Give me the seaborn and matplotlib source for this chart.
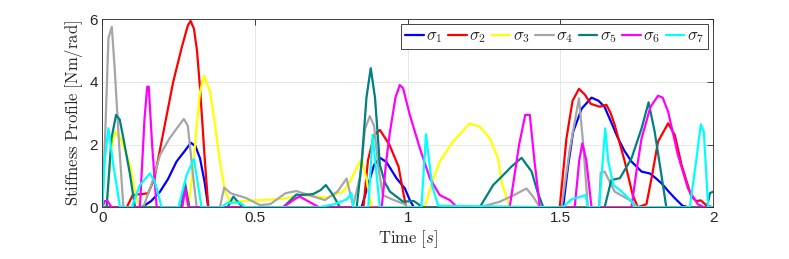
import numpy as np
import pandas as pd
import seaborn as sns
import matplotlib
matplotlib.use("Agg")
import matplotlib.pyplot as plt

# data -----------------------------------------------------------------------
labels = [r'$\sigma_1$', r'$\sigma_2$', r'$\sigma_3$', r'$\sigma_4$',
          r'$\sigma_5$', r'$\sigma_6$', r'$\sigma_7$']
colors = ['#0000ff', '#ff0000', '#ffff00', '#a6a6a6', '#008080', '#ff00ff', '#00ffff']

t1 = [0, 0.129, 0.16, 0.189, 0.215, 0.243, 0.27, 0.29, 0.305, 0.32, 0.335, 0.347,
      0.849, 0.87, 0.89, 0.909, 0.93, 0.964, 0.991, 1.007, 1.02,
      1.509, 1.525, 1.542, 1.57, 1.602, 1.625, 1.645, 1.665, 1.689, 1.71, 1.733,
      1.766, 1.793, 1.81, 1.831, 1.855, 1.875, 1.9, 1.92, 2.0]
s1 = [0, 0, 0.2, 0.5, 0.9, 1.46, 1.8, 2.06, 1.95, 1.56, 0.8, 0,
      0, 0.7, 1.35, 1.58, 1.45, 0.92, 0.6, 0.23, 0,
      0, 1.3, 2.41, 3.15, 3.5, 3.4, 3.2, 2.75, 2.2, 1.8, 1.46,
      1.14, 1.08, 0.95, 0.77, 0.5, 0.29, 0.05, 0, 0]

t2 = [0, 0.08, 0.1, 0.13, 0.15, 0.17, 0.19, 0.21, 0.232, 0.26, 0.28, 0.289, 0.3,
      0.31, 0.32, 0.335, 0.347,
      0.855, 0.87, 0.89, 0.909, 0.94, 0.97, 0.985, 0.995,
      1.498, 1.52, 1.54, 1.561, 1.58, 1.6, 1.629, 1.651, 1.665, 1.678, 1.711, 1.737,
      1.754, 1.782, 1.8, 1.82, 1.853, 1.875, 1.897, 1.929, 1.945, 1.96, 1.98, 2.0]
s2 = [0, 0, 0.4, 0.42, 0.45, 0.9, 1.9, 2.9, 4.0, 5.1, 5.8, 5.95, 5.7,
      5.0, 3.8, 1.6, 0,
      0, 1.5, 2.3, 2.47, 2.0, 1.3, 0.5, 0,
      0, 2.2, 3.4, 3.78, 3.6, 3.3, 3.21, 3.27, 3.0, 2.63, 1.46, 0.39,
      0, 0.1, 1.0, 2.1, 2.68, 2.3, 1.35, 0.34, 0.2, 0.22, 0.05, 0]

t3 = [0, 0.014, 0.028, 0.042, 0.06, 0.075, 0.091, 0.105, 0.123,
      0.282, 0.298, 0.31, 0.32, 0.333, 0.353, 0.369, 0.385, 0.402, 0.418, 0.47,
      0.592, 0.647, 0.735, 0.788, 0.81, 0.827, 0.849, 0.865, 0.882,
      1.056, 1.08, 1.105, 1.149, 1.193, 1.204, 1.236, 1.269, 1.296, 1.307, 1.334, 2.0]
s3 = [0, 0, 1.8, 2.41, 2.2, 1.8, 1.35, 0.6, 0,
      0, 1.35, 2.7, 3.69, 4.2, 3.69, 2.63, 1.46, 0.5, 0.18, 0.2,
      0.27, 0.39, 0.31, 0.5, 0.8, 1.14, 1.56, 0.9, 0,
      0, 0.8, 1.46, 2.1, 2.57, 2.68, 2.57, 2.2, 1.56, 0.82, 0, 0]

t4 = [0, 0.01, 0.02, 0.031, 0.04, 0.055, 0.069, 0.134, 0.16, 0.189, 0.22, 0.25,
      0.267, 0.28, 0.295, 0.309, 0.385, 0.399, 0.42, 0.47, 0.516, 0.55, 0.6, 0.636,
      0.647, 0.69, 0.729, 0.77, 0.8, 0.821, 0.845, 0.86, 0.876, 0.89, 0.905, 0.919,
      0.95, 0.99, 1.0, 1.236, 1.302, 1.35, 1.389, 1.41, 1.433, 1.504, 1.53, 1.561,
      1.575, 1.59, 1.627, 1.632, 1.645, 1.678, 1.727, 1.754, 2.0]
s4 = [0, 2.5, 5.4, 5.76, 4.5, 2.0, 0, 0, 0.7, 1.67, 2.2, 2.6,
      2.82, 2.6, 1.2, 0, 0, 0.63, 0.45, 0.3, 0.07, 0.1, 0.45, 0.52,
      0.48, 0.35, 0.23, 0.5, 0.92, 0.05, 1.0, 2.5, 2.91, 2.6, 1.2, 0.39,
      0.25, 0.1, 0, 0, 0.18, 0.4, 0.6, 0.35, 0, 0, 1.8, 3.48,
      2.0, 0, 0, 1.1, 1.14, 0.5, 0.23, 0, 0]

t5 = [0, 0.014, 0.03, 0.045, 0.057, 0.069, 0.091, 0.107, 0.258, 0.271, 0.285,
      0.41, 0.429, 0.46, 0.592, 0.636, 0.647, 0.69, 0.715, 0.732, 0.755, 0.778,
      0.833, 0.85, 0.865, 0.879, 0.893, 0.909, 0.925, 0.942, 0.985, 1.02, 1.05,
      1.236, 1.28, 1.305, 1.34, 1.373, 1.406, 1.425, 1.444,
      1.645, 1.667, 1.695, 1.733, 1.766, 1.789, 1.809, 1.831, 1.847, 1.98, 1.99, 2.0]
s5 = [0, 0, 2.2, 2.95, 2.8, 2.2, 1.03, 0, 0, 0.77, 0,
      0, 0.34, 0, 0, 0.41, 0.39, 0.42, 0.55, 0.71, 0.4, 0,
      0, 1.5, 3.5, 4.44, 3.5, 1.35, 0.8, 0.5, 0.18, 0.2, 0,
      0, 0.71, 0.95, 1.3, 1.58, 1.14, 0.5, 0,
      0, 0.87, 0.93, 1.56, 2.52, 3.35, 2.41, 1.03, 0, 0, 0.45, 0.5]

t6 = [0, 0.008, 0.017, 0.03, 0.123, 0.138, 0.147, 0.152, 0.163, 0.178,
      0.262, 0.271, 0.282, 0.592, 0.636, 0.647, 0.71,
      0.915, 0.93, 0.942, 0.96, 0.974, 0.985, 1.007, 1.04, 1.073, 1.105, 1.138, 1.162,
      1.334, 1.365, 1.385, 1.4, 1.415, 1.433, 1.547, 1.562, 1.572, 1.585, 1.602,
      1.733, 1.75, 1.766, 1.795, 1.82, 1.835, 1.853, 1.885, 1.918, 1.95, 1.97, 2.0]
s6 = [0, 0.2, 0.2, 0, 0, 2.8, 3.85, 3.85, 2.0, 0,
      0, 0.6, 0, 0, 0.3, 0.34, 0,
      0, 1.5, 2.41, 3.5, 3.9, 3.8, 2.95, 1.88, 0.92, 0.39, 0.23, 0,
      0, 2.0, 2.95, 2.95, 1.5, 0, 0, 1.5, 2.04, 1.5, 0,
      0, 1.2, 2.2, 3.2, 3.56, 3.5, 3.05, 1.67, 0.6, 0.1, 0, 0]

t7 = [0, 0.008, 0.02, 0.036, 0.058, 0.096, 0.123, 0.156, 0.172, 0.194,
      0.249, 0.276, 0.3, 0.312, 0.325, 0.39, 0.41, 0.45, 0.47,
      0.71, 0.76, 0.8, 0.816, 0.822, 0.871, 0.885, 0.909,
      1.045, 1.06, 1.07, 1.08, 1.1, 1.509, 1.535, 1.583, 1.59,
      1.627, 1.647, 1.657, 1.674, 1.701, 1.734, 1.745,
      1.924, 1.945, 1.96, 1.97, 1.984, 2.0]
s7 = [0, 1.5, 2.52, 1.35, 0, 0, 0.71, 1.08, 0.82, 0,
      0, 1.03, 1.54, 0.8, 0, 0, 0.15, 0.15, 0,
      0, 0.1, 0.25, 0.45, 0, 0, 2.31, 0,
      0, 2.33, 1.5, 0.7, 0.05, 0, 0.25, 0.39, 0,
      0, 2.52, 1.46, 0.71, 0.5, 0.18, 0,
      0, 1.5, 2.65, 2.4, 0, 0]

times = [t1, t2, t3, t4, t5, t6, t7]
vals = [s1, s2, s3, s4, s5, s6, s7]

#build long table---------------------------------------------------------------
frames = []
for i, (t, s) in enumerate(zip(times, vals)):
    frames.append(pd.DataFrame({'t': t, 'k': s, 'sig': labels[i]}))
df = pd.concat(frames, ignore_index=True)

#plot---------------------------------------------------------------------------
sns.set_style('white')
plt.rcParams['mathtext.fontset'] = 'cm'
plt.rcParams['font.family'] = ['Liberation Sans', 'DejaVu Sans']

fig = plt.figure(figsize=(7.89, 2.59), dpi=100)
ax = fig.add_axes([0.1297, 0.1996, 0.7740, 0.7259])

sns.lineplot(data=df, x='t', y='k', hue='sig', hue_order=labels,
             palette=dict(zip(labels, colors)), estimator=None, sort=False,
             units='sig', linewidth=1.6, ax=ax)

ax.set_xlim(0, 2)
ax.set_ylim(0, 6)
ax.set_xticks([0, 0.5, 1, 1.5, 2])
ax.set_xticklabels(['0', '0.5', '1', '1.5', '2'])
ax.set_yticks([0, 2, 4, 6])
ax.tick_params(direction='in', length=4, top=True, right=True, labelsize=11,
               colors='#262626', width=0.6, pad=3)
ax.grid(True, color='#e3e3e3', linewidth=0.6)
for sp in ax.spines.values():
    sp.set_color('#262626')
    sp.set_linewidth(0.6)
    sp.set_visible(True)

ax.set_xlabel(r'$\mathrm{Time}\ [s]$', fontsize=12, color='#262626', labelpad=2)
ax.set_ylabel(r'$\mathrm{Stiffness\ Profile\ [Nm/rad]}$', fontsize=12,
              color='#262626', labelpad=3)

leg = ax.legend(ncol=7, loc='upper right', fontsize=12, handlelength=1.1,
                handletextpad=0.15, columnspacing=0.35, borderpad=0.25,
                borderaxespad=0.3, fancybox=False, framealpha=1)
leg.get_frame().set_edgecolor('#262626')
leg.get_frame().set_linewidth(0.6)
for line in leg.get_lines():
    line.set_linewidth(1.6)

fig.savefig('out.png', dpi=100)
